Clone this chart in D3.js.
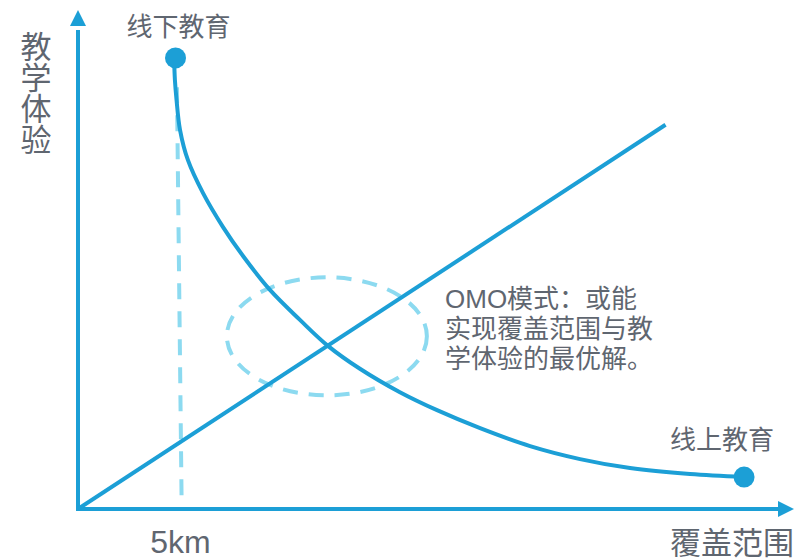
<!DOCTYPE html>
<html>
<head>
<meta charset="utf-8">
<script src="https://cdn.jsdelivr.net/npm/d3@7"></script>
<style>
  body { margin: 0; background: #fff; }
  text { fill: #5f6670; font-family: "Liberation Sans", "Noto Sans CJK SC", sans-serif; }
</style>
</head>
<body>
<div id="chart"></div>
<script>
// curve "线下 -> 线上" (x in km, y = teaching experience 0-100)
var curveX = [4.71, 4.75, 4.83, 5.0, 5.39, 6.13, 7.11, 8.09, 9.41, 10.88, 12.25, 13.82, 15.78, 17.6, 19.71, 22.16, 24.61, 27.06, 30.0, 32.65];
var curveY = [90.6, 86.0, 82.0, 76.0, 69.9, 63.3, 56.5, 50.7, 43.9, 37.9, 32.7, 28.1, 23.4, 19.8, 16.2, 12.6, 10.0, 8.2, 7.0, 6.4];
// straight line: coverage
var lineX = [0, 28.8];
var lineY = [0, 77.0];
// end dots
var dotX = [4.78, 32.65];
var dotY = [90.4, 6.4];
var dotLabels = ["线下教育", "线上教育"];
// dashed guide at 5km
var guideX = [4.85, 5.08];
var guideY = [84.5, 1.2];
var tickValues = [5];
var tickLabels = ["5km"];
var yTitle = ["教", "学", "体", "验"];
var xTitle = "覆盖范围";
var noteLines = ["OMO模式：或能", "实现覆盖范围与教", "学体验的最优解。"];

var W = 794, H = 558;
var blue = "#1c9fd6", light = "#8cdaf0";

var svg = d3.select("#chart").append("svg")
  .attr("width", W)
  .attr("height", H);

var x = d3.scaleLinear().domain([0, 35]).range([78, 792]);
var y = d3.scaleLinear().domain([0, 100]).range([509, 10]);

// axes (no ticks, own arrow heads)
svg.append("line")
  .attr("x1", x(0)).attr("y1", y(0))
  .attr("x2", x(0)).attr("y2", y(96))
  .attr("stroke", blue).attr("stroke-width", 4);
svg.append("path")
  .attr("d", "M" + x(0) + "," + y(100) + " L" + (x(0) - 8) + "," + (y(100) + 16) + " L" + (x(0) + 8) + "," + (y(100) + 16) + "Z")
  .attr("fill", blue);

svg.append("line")
  .attr("x1", x(0) - 2).attr("y1", y(0))
  .attr("x2", W - 14).attr("y2", y(0))
  .attr("stroke", blue).attr("stroke-width", 4);
svg.append("path")
  .attr("d", "M" + W + "," + y(0) + " L" + (W - 16) + "," + (y(0) - 8) + " L" + (W - 16) + "," + (y(0) + 8) + "Z")
  .attr("fill", blue);

// tick label 5km
svg.append("g")
  .attr("transform", "translate(0," + (y(0) + 44) + ")")
  .call(d3.axisBottom(x).tickValues(tickValues).tickSize(0).tickFormat(function(d, i) { return tickLabels[i]; }))
  .call(function(g) { g.select(".domain").remove(); })
  .selectAll("text")
  .attr("y", 0)
  .attr("dy", 0)
  .style("font-size", "32px")
  .style("font-family", "Liberation Sans, sans-serif")
  .attr("fill", "#5f6670");

// dashed guide
svg.append("line")
  .attr("x1", x(guideX[0])).attr("y1", y(guideY[0]))
  .attr("x2", x(guideX[1])).attr("y2", y(guideY[1]))
  .attr("stroke", light).attr("stroke-width", 4)
  .attr("stroke-dasharray", "16,12");

// dashed ellipse round the crossing
svg.append("ellipse")
  .attr("cx", x(12.2)).attr("cy", y(34.6))
  .attr("rx", 100).attr("ry", 59)
  .attr("fill", "none")
  .attr("stroke", light).attr("stroke-width", 4)
  .attr("stroke-dasharray", "15,11");

// straight line
svg.append("line")
  .attr("x1", x(lineX[0])).attr("y1", y(lineY[0]))
  .attr("x2", x(lineX[1])).attr("y2", y(lineY[1]))
  .attr("stroke", blue).attr("stroke-width", 4);

// curve
var pts = curveX.map(function(d, i) { return [d, curveY[i]]; });
var curve = d3.line()
  .x(function(d) { return x(d[0]); })
  .y(function(d) { return y(d[1]); })
  .curve(d3.curveCatmullRom.alpha(0.5));
svg.append("path")
  .attr("d", curve(pts))
  .attr("fill", "none")
  .attr("stroke", blue).attr("stroke-width", 4);

// dots
svg.selectAll(".dot")
  .data(dotX)
  .enter()
  .append("circle")
  .attr("cx", function(d) { return x(d); })
  .attr("cy", function(d, i) { return y(dotY[i]); })
  .attr("r", 10.5)
  .attr("fill", blue);

// dot labels
svg.append("text")
  .attr("x", x(dotX[0]) + 3).attr("y", 27)
  .attr("text-anchor", "middle")
  .attr("dominant-baseline", "central")
  .style("font-size", "26px")
  .text(dotLabels[0]);
svg.append("text")
  .attr("x", x(dotX[1]) - 22).attr("y", 440)
  .attr("text-anchor", "middle")
  .attr("dominant-baseline", "central")
  .style("font-size", "26px")
  .text(dotLabels[1]);

// y title (vertical)
svg.selectAll(".ytitle")
  .data(yTitle)
  .enter()
  .append("text")
  .attr("x", 36)
  .attr("y", function(d, i) { return 47 + i * 31; })
  .attr("text-anchor", "middle")
  .attr("dominant-baseline", "central")
  .style("font-size", "31px")
  .text(function(d) { return d; });

// x title
svg.append("text")
  .attr("x", 670).attr("y", 543)
  .attr("dominant-baseline", "central")
  .style("font-size", "31px")
  .text(xTitle);

// note
svg.selectAll(".note")
  .data(noteLines)
  .enter()
  .append("text")
  .attr("x", 445)
  .attr("y", function(d, i) { return 308 + i * 30; })
  .style("font-size", "26px")
  .text(function(d) { return d; });
</script>
</body>
</html>
